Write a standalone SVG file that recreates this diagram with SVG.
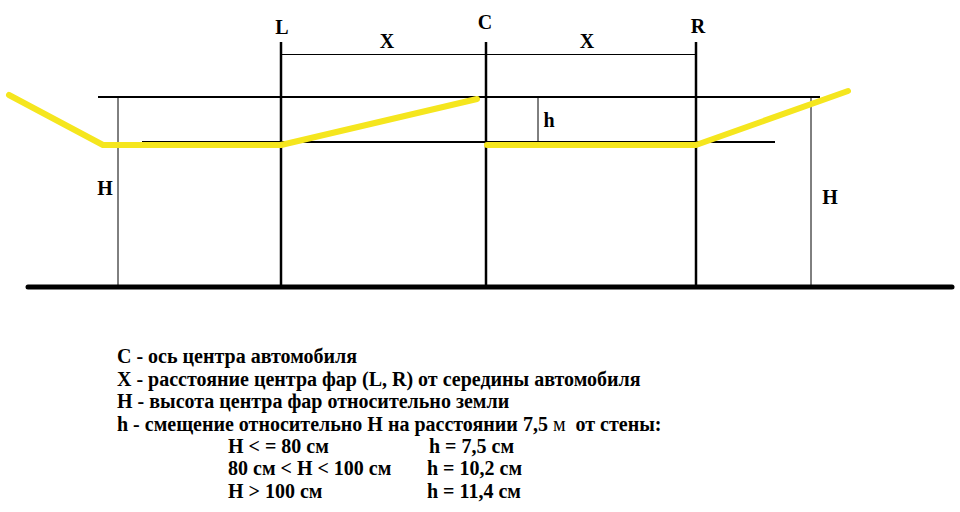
<svg xmlns="http://www.w3.org/2000/svg" width="960" height="512" viewBox="0 0 960 512">
<style>
.t{font-family:"Liberation Serif","Times New Roman",serif;font-weight:bold;font-size:20px;fill:#000}
.thin{stroke:#000;stroke-width:1;fill:none}
.mid{stroke:#000;stroke-width:2;fill:none}
.axis{stroke:#000;stroke-width:2.5;fill:none}
.beam{stroke:#f5e61e;stroke-width:6;fill:none;stroke-linecap:round;stroke-linejoin:round}
</style>
<rect width="960" height="512" fill="#fff"/>
<g id="connectors">
<line class="axis" x1="281" y1="42" x2="281" y2="287"/>
<line class="axis" x1="486" y1="42" x2="486" y2="287"/>
<line class="axis" x1="696" y1="42" x2="696" y2="287"/>
<line class="thin" x1="281" y1="54.5" x2="696" y2="54.5"/>
<line class="mid" x1="98" y1="97" x2="820" y2="97"/>
<line class="mid" x1="142" y1="142" x2="775" y2="142"/>
<line class="thin" x1="118" y1="97" x2="118" y2="287"/>
<line class="thin" x1="811" y1="97" x2="811" y2="287"/>
<line class="thin" x1="538" y1="97" x2="538" y2="142"/>
<line x1="28" y1="287" x2="952" y2="287" stroke="#000" stroke-width="5" stroke-linecap="round"/>
<polyline class="beam" points="9,95 103,145 281,145 477,99"/>
<polyline class="beam" points="487,145 696,145 848,91"/>
</g>
<g id="labels">
<text class="t" x="282" y="34" text-anchor="middle">L</text>
<text class="t" x="485" y="29" text-anchor="middle">C</text>
<text class="t" x="698" y="33" text-anchor="middle">R</text>
<text class="t" x="387" y="48" text-anchor="middle">X</text>
<text class="t" x="587" y="48" text-anchor="middle">X</text>
<text class="t" x="549" y="127" text-anchor="middle">h</text>
<text class="t" x="105" y="195" text-anchor="middle">H</text>
<text class="t" x="830" y="204" text-anchor="middle">H</text>
</g>
<g id="legend">
<text class="t" x="117" y="363">C - ось центра автомобиля</text>
<text class="t" x="117" y="386">X - расстояние центра фар (L, R) от середины автомобиля</text>
<text class="t" x="117" y="408">H - высота центра фар относительно земли</text>
<text class="t" x="117" y="431">h - смещение относительно H на расстоянии 7,5 <tspan font-weight="normal">м</tspan>&#160; от стены:</text>
<text class="t" x="228" y="453">H &lt; = 80 см</text>
<text class="t" x="429" y="453">h = 7,5 см</text>
<text class="t" x="228" y="475">80 см &lt; H &lt; 100 см</text>
<text class="t" x="427" y="475">h = 10,2 см</text>
<text class="t" x="228" y="498">H &gt; 100 см</text>
<text class="t" x="427" y="498">h = 11,4 см</text>
</g>
</svg>
